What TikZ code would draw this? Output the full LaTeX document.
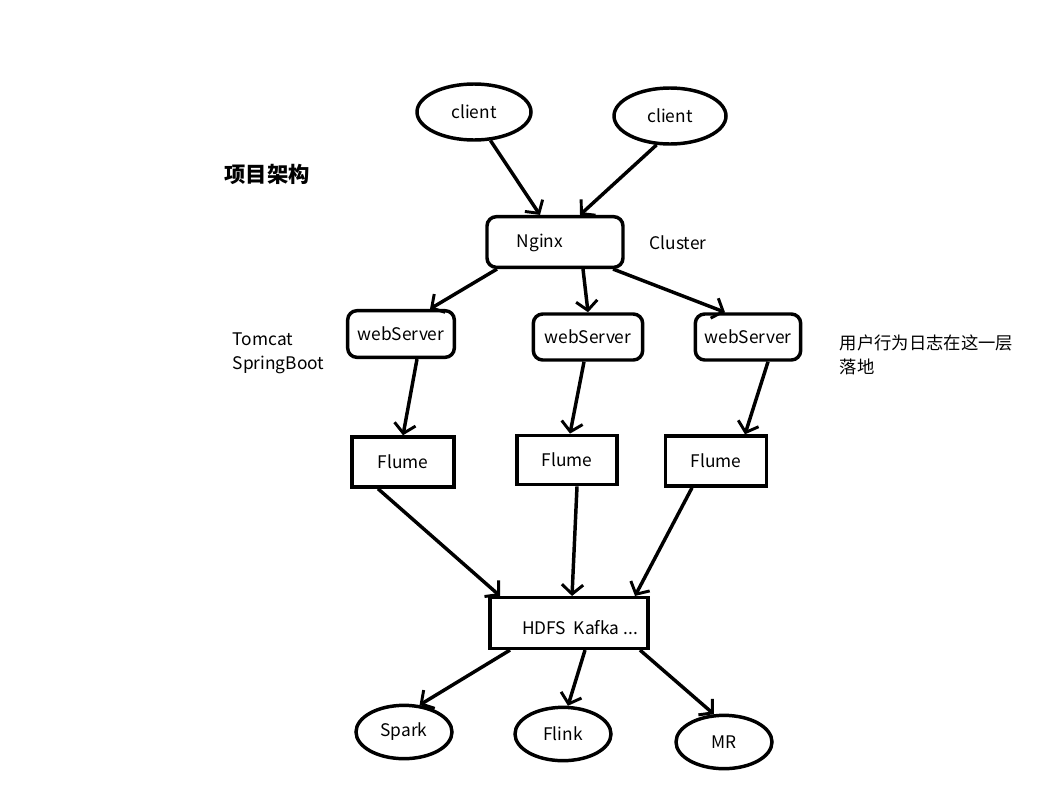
\documentclass[tikz,border=0pt]{standalone}
\usepackage{fontspec}
\setmainfont{Noto Sans CJK SC}
\usetikzlibrary{arrows.meta,shapes.geometric}
\begin{document}
\begin{tikzpicture}[x=0.75pt,y=-0.75pt,font=\fontsize{13pt}{15pt}\selectfont,
 ln/.style={line width=2.6pt},
 arr/.style={ln,-{Straight Barb[length=7pt,width=16pt,line width=2.2pt]}},
 ell/.style={ellipse,draw,ln,inner sep=0pt},
 rbox/.style={draw,ln,rounded corners=7pt,inner sep=0pt},
 sbox/.style={draw,ln,inner sep=0pt}]
\useasboundingbox (0,0) rectangle (1037,789);
\node[ell,minimum width=85.5pt,minimum height=42pt] (c1) at (474,112) {client};
\node[ell,minimum width=84pt,minimum height=42pt] (c2) at (670,116) {client};
\node[font=\fontsize{16pt}{18pt}\selectfont\bfseries] (t) at (267,174) {项目架构};
\node[rbox,minimum width=102pt,minimum height=38pt] (ng) at (555,242) {};
\node (ngt) at (540,243) {Nginx};
\node (cl) at (678,243) {Cluster};
\node[rbox,minimum width=80pt,minimum height=35pt] (w1) at (401,334) {webServer};
\node[rbox,minimum width=82pt,minimum height=34.5pt] (w2) at (588,337) {webServer};
\node[rbox,minimum width=79pt,minimum height=34.5pt] (w3) at (748,337) {webServer};
\node[align=left,anchor=west] (tm) at (228,353) {Tomcat\\[3pt]SpringBoot};
\node[align=left,anchor=west] (yh) at (835,355) {用户行为日志在这一层\\[3pt]落地};
\node[sbox,minimum width=76.5pt,minimum height=37.5pt] (f1) at (403,462) {Flume};
\node[sbox,minimum width=75pt,minimum height=37pt] (f2) at (567,460) {Flume};
\node[sbox,minimum width=76pt,minimum height=37.5pt] (f3) at (716,461) {Flume};
\node[sbox,minimum width=118.5pt,minimum height=38pt] (hd) at (569,623) {};
\node (hdt) at (580,628) {HDFS\ \ Kafka ...};
\node[ell,minimum width=72pt,minimum height=40pt] (sp) at (404,732) {Spark};
\node[ell,minimum width=72pt,minimum height=40pt] (fl) at (563,734) {Flink};
\node[ell,minimum width=72pt,minimum height=40pt] (mr) at (724,742) {MR};
\draw[arr] (c1.-60) -- (ng.north -| 540,0);
\draw[arr] (c2.-115) -- (ng.north -| 580,0);
\draw[arr] (ng.-155) -- (w1.north -| 430,0);
\draw[arr] (ng.south -| 583,0) -- (w2.north);
\draw[arr] (ng.-25) -- (w3.north -| 725,0);
\draw[arr] (w1.south -| 417,0) -- (f1.north);
\draw[arr] (w2.south -| 584,0) -- (f2.north -| 570,0);
\draw[arr] (w3.south -| 768,0) -- (f3.north -| 745,0);
\draw[arr] (f1.south -| 378,0) -- (hd.north -| 500,0);
\draw[arr] (f2.south -| 577,0) -- (hd.north -| 572,0);
\draw[arr] (f3.south -| 692,0) -- (hd.north -| 635,0);
\draw[arr] (hd.south -| 510,0) -- (sp.60);
\draw[arr] (hd.south -| 585,0) -- (fl.80);
\draw[arr] (hd.south -| 640,0) -- (mr.110);
\end{tikzpicture}
\end{document}
